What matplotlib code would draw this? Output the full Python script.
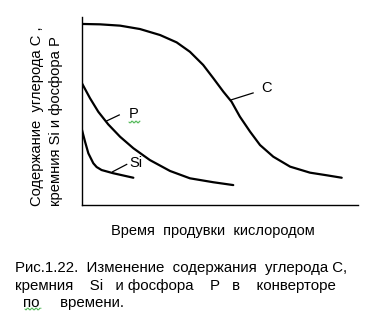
import numpy as np
import matplotlib
matplotlib.use("Agg")
import matplotlib.pyplot as plt

plt.rcParams['font.family'] = ['Liberation Sans', 'DejaVu Sans']

# Blowing time (arbitrary units) and element content (arbitrary units)
c_time = [0.0, 0.65, 1.38, 2.10, 2.83, 3.43, 3.91, 4.39, 4.76, 5.12, 5.42,
          5.72, 6.09, 6.45, 6.93, 7.54, 8.26, 8.87, 9.41]
c_content = [9.63, 9.61, 9.54, 9.36, 9.04, 8.65, 8.15, 7.45, 6.74, 6.03, 5.49,
             4.70, 3.90, 3.19, 2.57, 2.04, 1.72, 1.58, 1.45]

p_time = [0.0, 0.29, 0.59, 0.95, 1.38, 1.86, 2.46, 3.19, 3.91, 4.76, 5.48]
p_content = [6.47, 5.68, 4.96, 4.29, 3.63, 3.02, 2.39, 1.81, 1.42, 1.21, 1.06]

si_time = [0.0, 0.11, 0.23, 0.41, 0.53, 0.71, 1.13, 1.86]
si_content = [3.99, 3.37, 2.75, 2.22, 2.02, 1.86, 1.69, 1.45]

W, H = 371, 322
fig = plt.figure(figsize=(W / 100, H / 100), dpi=100)

def fx(px):
    return px / W

def fy(py):
    return 1 - py / H

ax = fig.add_axes([fx(82), fy(205), fx(358) - fx(82), fy(17) - fy(205)])
ax.set_xlim(0, 10)
ax.set_ylim(0, 10)
for s in ('top', 'right'):
    ax.spines[s].set_visible(False)
for s in ('left', 'bottom'):
    ax.spines[s].set_linewidth(1.0)
ax.set_xticks([])
ax.set_yticks([])

kw = dict(color='black', lw=1.6, solid_joinstyle='round', solid_capstyle='round')
ax.plot(c_time, c_content, **kw)
ax.plot(p_time, p_content, **kw)
ax.plot(si_time, si_content, **kw)

# Curve labels with short leader lines
lab = dict(fontsize=10.5, color='black', va='center', ha='center')
ax.plot([5.40, 6.20], [5.59, 5.96], color='black', lw=0.9)
ax.text(6.69, 6.24, 'C', **lab)
ax.plot([0.89, 1.35], [4.47, 4.79], color='black', lw=0.9)
ax.text(1.88, 4.84, 'P', **lab)
ax.plot([1.11, 1.62], [1.77, 2.16], color='black', lw=0.9)
ax.text(1.96, 2.22, 'Si', **lab)

# Spell-check style wavy underlines
def squiggle(x0, x1, y):
    xs = np.linspace(x0, x1, 40)
    ys = y + 0.8 * np.sign(np.sin((xs - x0) * np.pi / 2.0))
    fig.add_artist(plt.Line2D(fx(xs), fy(ys), color='#3cb043', lw=0.6))

squiggle(129, 140, 122)
squiggle(25, 41, 309)

# Axis titles
fig.text(fx(37), fy(206), 'Содержание  углерода С ,', rotation=90,
         ha='center', va='bottom', fontsize=10.6)
fig.text(fx(56), fy(206), 'кремния Si и фосфора P', rotation=90,
         ha='center', va='bottom', fontsize=10.6)
fig.text(fx(213), fy(231), 'Время  продувки  кислородом',
         ha='center', va='center', fontsize=10.5)

# Figure caption
cap = dict(ha='left', va='center', fontsize=10.8)
fig.text(fx(15), fy(268), 'Рис.1.22.  Изменение  содержания  углерода С,', **cap)
fig.text(fx(15), fy(286), 'кремния    Si   и фосфора    P   в    конверторе', **cap)
fig.text(fx(23), fy(303), 'по     времени.', **cap)

fig.savefig('out.png', dpi=100)
